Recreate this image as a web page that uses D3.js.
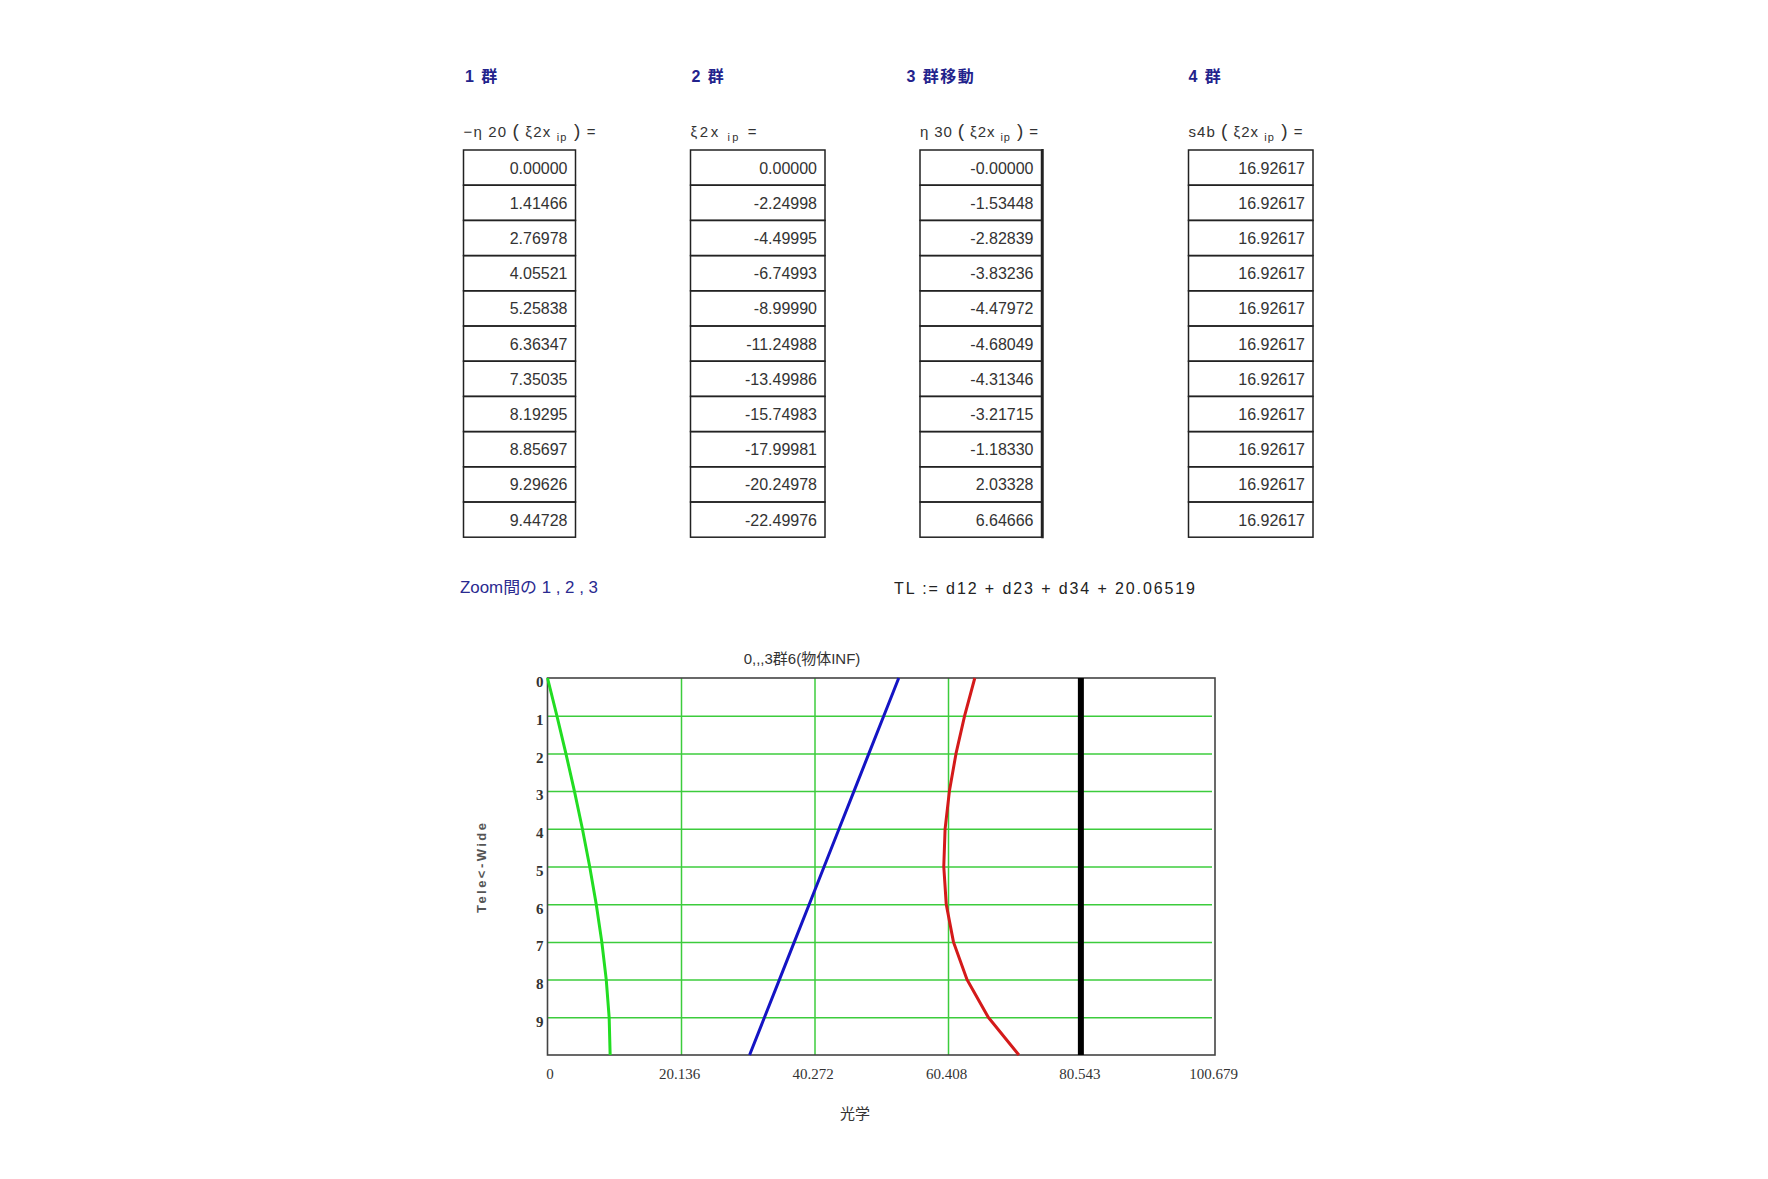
<!DOCTYPE html>
<html lang="ja">
<head>
<meta charset="UTF-8">
<title>0,,,3群6(物体INF)</title>
<style>
  body { margin: 0; background: #fff; }
  .hdr { font-family: "Liberation Sans", Arial, "Noto Sans CJK JP", sans-serif; font-size: 16px; font-weight: bold; fill: #23238c; letter-spacing: 1.5px; }
  .lbl { font-family: "Liberation Sans", Arial, "Noto Sans CJK JP", sans-serif; font-size: 15px; fill: #333; }
  .cell { font-family: "Liberation Sans", Arial, sans-serif; font-size: 16px; fill: #333; text-anchor: end; }
  .grid line { stroke: #3ccc3c; stroke-width: 1.5; }
  .grid path { display: none; }
  .tick-x text { font-family: "Liberation Serif", "Times New Roman", serif; font-size: 15px; fill: #333; }
  .tick-y text { font-family: "Liberation Serif", "Times New Roman", serif; font-size: 15px; font-weight: bold; fill: #333; }
  .tick-x path, .tick-y path, .tick-x line, .tick-y line { display: none; }
</style>
</head>
<body>
<div id="chart"></div>
<script src="https://d3js.org/d3.v7.min.js"></script>
<script>
var width = 1768, height = 1179;

// 表の見出し
var groupNames = ["1 群", "2 群", "3 群移動", "4 群"];
// 各群の値 (ip = 0..10)
var eta20 = ["0.00000", "1.41466", "2.76978", "4.05521", "5.25838", "6.36347", "7.35035", "8.19295", "8.85697", "9.29626", "9.44728"];
var xi2x = ["0.00000", "-2.24998", "-4.49995", "-6.74993", "-8.99990", "-11.24988", "-13.49986", "-15.74983", "-17.99981", "-20.24978", "-22.49976"];
var eta30 = ["-0.00000", "-1.53448", "-2.82839", "-3.83236", "-4.47972", "-4.68049", "-4.31346", "-3.21715", "-1.18330", "2.03328", "6.64666"];
var s4b = ["16.92617", "16.92617", "16.92617", "16.92617", "16.92617", "16.92617", "16.92617", "16.92617", "16.92617", "16.92617", "16.92617"];

// グラフ: 各群の位置 (光学)
var zoomSteps = [0, 1, 2, 3, 4, 5, 6, 7, 8, 9, 10];
var group1Pos = [0.00, 1.41, 2.77, 4.06, 5.26, 6.36, 7.35, 8.19, 8.86, 9.30, 9.45];
var group2Pos = [52.98, 50.73, 48.48, 46.23, 43.98, 41.73, 39.48, 37.23, 34.98, 32.73, 30.48];
var group3Pos = [64.45, 62.92, 61.62, 60.62, 59.97, 59.77, 60.14, 61.23, 63.27, 66.48, 71.10];
var group4Pos = [80.45, 80.45, 80.45, 80.45, 80.45, 80.45, 80.45, 80.45, 80.45, 80.45, 80.45];

var xTicks = [0, 20.136, 40.272, 60.408, 80.543, 100.679];
var xTickLabels = ["0", "20.136", "40.272", "60.408", "80.543", "100.679"];
var yTicks = [0, 1, 2, 3, 4, 5, 6, 7, 8, 9];
var xMax = 100.679, yMax = 10;

var svg = d3.select('#chart').append('svg')
    .attr('width', width).attr('height', height);
svg.append('rect').attr('width', width).attr('height', height).attr('fill', '#fff');

// ---- 表 ----
// 0: 普通, 1: 添字, 2: 括弧
var cols = [
    { left: 463.5, right: 575.5, data: eta20, lw: 132, label: [["−η 20 ", 0], ["(", 2], [" ξ2x ", 0], ["ip", 1], [" )", 2], ["  =", 0]] },
    { left: 690.5, right: 825, data: xi2x, lw: 66, label: [["ξ2x ", 0], ["ip", 1], ["   =", 0]] },
    { left: 920, right: 1041.5, data: eta30, lw: 118, label: [["η 30 ", 0], ["(", 2], [" ξ2x ", 0], ["ip", 1], [" )", 2], ["  =", 0]] },
    { left: 1188.5, right: 1313, data: s4b, lw: 114, label: [["s4b ", 0], ["(", 2], [" ξ2x ", 0], ["ip", 1], [" )", 2], ["  =", 0]] }
];
var hdrX = [465, 691.5, 906.5, 1188.5];
var tableTop = 150, rowH = 35.2;

cols.forEach(function(c, k) {
    svg.append('text').attr('class', 'hdr')
        .attr('x', hdrX[k]).attr('y', 82)
        .text(groupNames[k]);

    var lab = svg.append('text').attr('class', 'lbl')
        .attr('x', c.left).attr('y', 137)
        .attr('textLength', c.lw).attr('lengthAdjust', 'spacing');
    var sub = false;
    c.label.forEach(function(p) {
        var t = lab.append('tspan').text(p[0]);
        if (p[1] === 1) { t.attr('font-size', 11).attr('dy', 4); sub = true; }
        else if (sub) { t.attr('dy', -4); sub = false; }
        if (p[1] === 2) t.attr('font-size', 19);
    });

    var g = svg.append('g');
    g.selectAll('rect').data(c.data).enter().append('rect')
        .attr('x', c.left).attr('y', function(d, i) { return tableTop + i * rowH; })
        .attr('width', c.right - c.left).attr('height', rowH)
        .attr('fill', 'none').attr('stroke', '#222').attr('stroke-width', 1.5);
    g.selectAll('text').data(c.data).enter().append('text')
        .attr('class', 'cell')
        .attr('x', c.right - 8).attr('y', function(d, i) { return tableTop + i * rowH + rowH / 2 + 6; })
        .text(function(d) { return d; });
});
// 3群の右罫線は太い
svg.append('line')
    .attr('x1', cols[2].right + 1).attr('x2', cols[2].right + 1)
    .attr('y1', tableTop - 1).attr('y2', tableTop + 11 * rowH + 1)
    .attr('stroke', '#222').attr('stroke-width', 2.5);

// ---- 注記 ----
svg.append('text')
    .attr('x', 460).attr('y', 593)
    .attr('font-family', '"Liberation Sans Narrow", "Liberation Sans", "Noto Sans CJK JP", sans-serif')
    .attr('font-size', 16).attr('fill', '#2a2a90')
    .attr('textLength', 138).attr('lengthAdjust', 'spacingAndGlyphs')
    .text('Zoom間の 1 , 2 , 3');
svg.append('text')
    .attr('x', 894).attr('y', 594)
    .attr('font-family', '"Liberation Sans Narrow", "Liberation Sans", sans-serif')
    .attr('font-size', 16).attr('fill', '#222')
    .attr('textLength', 301).attr('lengthAdjust', 'spacing')
    .text('TL  := d12  +  d23  +  d34  +  20.06519');

// ---- グラフ ----
var plot = { left: 547.5, right: 1215, top: 678, bottom: 1055 };
var x = d3.scaleLinear().domain([0, xMax]).range([plot.left, plot.right]);
var y = d3.scaleLinear().domain([0, yMax]).range([plot.top, plot.bottom]);

// 格子線
svg.append('g').attr('class', 'grid')
    .attr('transform', 'translate(0,' + plot.bottom + ')')
    .call(d3.axisBottom(x).tickValues(xTicks.slice(1, -1)).tickSize(-(plot.bottom - plot.top)).tickFormat(''));
svg.append('g').attr('class', 'grid')
    .attr('transform', 'translate(' + plot.left + ',0)')
    .call(d3.axisLeft(y).tickValues(yTicks.slice(1)).tickSize(-(plot.right - plot.left - 3)).tickFormat(''));

// 枠
svg.append('rect')
    .attr('x', plot.left).attr('y', plot.top)
    .attr('width', plot.right - plot.left).attr('height', plot.bottom - plot.top)
    .attr('fill', 'none').attr('stroke', '#444').attr('stroke-width', 1.6);

var line = d3.line()
    .x(function(d) { return x(d); })
    .y(function(d, i) { return y(zoomSteps[i]); });

var series = [
    { data: group1Pos, color: '#22dd22', w: 3 },
    { data: group2Pos, color: '#1414c4', w: 3 },
    { data: group3Pos, color: '#d41a1a', w: 3 },
    { data: group4Pos, color: '#000', w: 6 }
];
svg.append('g').selectAll('path').data(series).enter().append('path')
    .attr('d', function(s) { return line(s.data); })
    .attr('fill', 'none')
    .attr('stroke', function(s) { return s.color; })
    .attr('stroke-width', function(s) { return s.w; })
    .attr('stroke-linejoin', 'round');

// 目盛
var xAxis = svg.append('g').attr('class', 'tick-x')
    .attr('transform', 'translate(-2,' + plot.bottom + ')')
    .call(d3.axisBottom(x).tickValues(xTicks).tickSize(0).tickPadding(10)
        .tickFormat(function(d, i) { return xTickLabels[i]; }));
xAxis.selectAll('text').attr('dy', '0.95em');
xAxis.select('.tick text').attr('dx', 4);

svg.append('g').attr('class', 'tick-y')
    .attr('transform', 'translate(' + plot.left + ',4)')
    .call(d3.axisLeft(y).tickValues(yTicks).tickSize(0).tickPadding(4)
        .tickFormat(function(d) { return d; }));

// タイトル・軸ラベル
svg.append('text')
    .attr('x', 802).attr('y', 664).attr('text-anchor', 'middle')
    .attr('font-family', '"Liberation Sans", Arial, "Noto Sans CJK JP", sans-serif')
    .attr('font-size', 15).attr('fill', '#333')
    .text('0,,,3群6(物体INF)');
svg.append('text')
    .attr('x', 855).attr('y', 1119).attr('text-anchor', 'middle')
    .attr('font-family', '"Noto Sans CJK JP", sans-serif')
    .attr('font-size', 15).attr('fill', '#333')
    .text('光学');
svg.append('text')
    .attr('transform', 'translate(486,868) rotate(-90)')
    .attr('text-anchor', 'middle')
    .attr('font-family', '"Liberation Sans", Arial, sans-serif')
    .attr('font-size', 13).attr('font-weight', 'bold').attr('fill', '#555')
    .attr('textLength', 90).attr('lengthAdjust', 'spacing')
    .text('Tele<-Wide');
</script>
</body>
</html>
